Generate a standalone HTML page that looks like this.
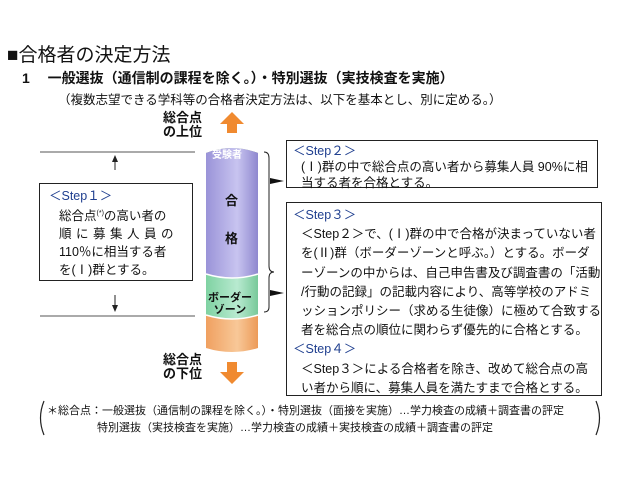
<!DOCTYPE html>
<html><head><meta charset="utf-8"><style>
body{margin:0;width:640px;height:480px;background:#fff;position:relative;overflow:hidden;font-family:"Liberation Sans","Noto Sans CJK JP",sans-serif;color:#111}
.a{position:absolute;white-space:nowrap}
.box{position:absolute;border:1.5px solid #222;background:#fff;box-sizing:border-box}
.st{color:#1f3f8f}
</style></head><body>
<div class="a" style="left:7px;top:40px;font-size:19px">■合格者の決定方法</div>
<div class="a" style="left:22px;top:68px;font-size:14px;font-weight:bold">1　 一般選抜（通信制の課程を除く。）・特別選抜（実技検査を実施）</div>
<div class="a" style="left:58px;top:89px;font-size:12.5px">（複数志望できる学科等の合格者決定方法は、以下を基本とし、別に定める。）</div>

<svg width="640" height="480" style="position:absolute;left:0;top:0">
<defs>
<linearGradient id="p" x1="0" x2="1"><stop offset="0" stop-color="#9a93d8"/><stop offset="0.6" stop-color="#c8c4f0"/><stop offset="1" stop-color="#8f88cf"/></linearGradient>
<linearGradient id="g" x1="0" x2="1"><stop offset="0" stop-color="#7fd2a2"/><stop offset="0.6" stop-color="#b8ead0"/><stop offset="1" stop-color="#78c99a"/></linearGradient>
<linearGradient id="o" x1="0" x2="1"><stop offset="0" stop-color="#f0a060"/><stop offset="0.6" stop-color="#f8c898"/><stop offset="1" stop-color="#ec9a58"/></linearGradient>
</defs>
<polygon points="232,112 220,124 227,124 227,133 237,133 237,124 244,124" fill="#f08a30"/>
<polygon points="232,384 220,372 227,372 227,362 237,362 237,372 244,372" fill="#f08a30"/>
<path d="M206,153 Q232,143 258,153 L258,348 Q232,356 206,348 Z" fill="url(#o)"/>
<path d="M206,153 Q232,143 258,153 L258,315 Q232,323 206,315 Z" fill="url(#g)"/>
<path d="M206,153 Q232,143 258,153 L258,274 Q232,282 206,274 Z" fill="url(#p)"/>
<path d="M206,274 Q232,282 258,274" stroke="#fff" stroke-width="1.5" fill="none"/>
<path d="M206,315 Q232,323 258,315" stroke="#fff" stroke-width="1.5" fill="none"/>
<line x1="40" y1="152" x2="195" y2="152" stroke="#555" stroke-width="1"/>
<line x1="40" y1="316" x2="195" y2="316" stroke="#555" stroke-width="1"/>
<line x1="115" y1="158" x2="115" y2="170" stroke="#222"/><polygon points="115,155 112,162 118,162" fill="#222"/>
<line x1="115" y1="295" x2="115" y2="309" stroke="#222"/><polygon points="115,312 112,305 118,305" fill="#222"/>
<path d="M264,152 Q269,152 269,158 L269,266 Q269,272 274,272 Q269,272 269,278 L269,307 Q269,312 264,312" stroke="#222" fill="none" stroke-width="1"/>
<polygon points="270,178 284,181 270,184" fill="#111"/>
<polygon points="270,290 284,293 270,296" fill="#111"/>
<path d="M44,401 Q37,418 44,435" stroke="#222" fill="none" stroke-width="1.2"/>
<path d="M596,401 Q603,418 596,435" stroke="#222" fill="none" stroke-width="1.2"/>
</svg>

<div class="a" style="left:163px;top:111px;font-size:13px;font-weight:bold;line-height:14px;text-align:center">総合点<br>の上位</div>
<div class="a" style="left:163px;top:353px;font-size:13px;font-weight:bold;line-height:14px;text-align:center">総合点<br>の下位</div>
<div class="a" style="left:212px;top:146px;font-size:10px;font-weight:bold;color:#fff">受験者</div>
<div class="a" style="left:225px;top:190px;font-size:13px;font-weight:bold">合</div>
<div class="a" style="left:225px;top:228px;font-size:13px;font-weight:bold">格</div>
<div class="a" style="left:208px;top:292px;font-size:11px;font-weight:bold;line-height:12px;text-align:center">ボーダー<br>ゾーン</div>

<div class="box" style="left:39px;top:183px;width:154px;height:98px;padding:3px 0 0 9px;font-size:12.5px;line-height:18px">
<div class="st">＜Step１＞</div>
<div style="padding-left:10px">総合点<sup style="font-size:7px">(*)</sup>の高い者の<br><span style="letter-spacing:4.5px">順に募集人員の</span><br>110％に相当する者<br>を(Ⅰ)群とする。</div>
</div>

<div class="box" style="left:286px;top:140px;width:312px;height:48px;padding:2px 0 0 6px;font-size:12.5px;line-height:16px">
<div class="st">＜Step２＞</div>
<div style="padding-left:8px">(Ⅰ)群の中で総合点の高い者から募集人員 90%に相<br>当する者を合格とする。</div>
</div>

<div class="box" style="left:286px;top:202px;width:316px;height:194px;padding:3px 0 0 6px;font-size:12.5px;line-height:19.2px">
<div class="st">＜Step３＞</div>
<div style="padding-left:8px">＜Step２＞で、(Ⅰ)群の中で合格が決まっていない者<br>を(Ⅱ)群（ボーダーゾーンと呼ぶ。）とする。ボーダ<br>ーゾーンの中からは、自己申告書及び調査書の「活動<br>/行動の記録」の記載内容により、高等学校のアドミ<br>ッションポリシー（求める生徒像）に極めて合致する<br>者を総合点の順位に関わらず優先的に合格とする。</div>
<div class="st">＜Step４＞</div>
<div style="padding-left:8px">＜Step３＞による合格者を除き、改めて総合点の高<br>い者から順に、募集人員を満たすまで合格とする。</div>
</div>

<div class="a" style="left:47px;top:403px;font-size:11px;line-height:17px">＊総合点：一般選抜（通信制の課程を除く。）・特別選抜（面接を実施）…学力検査の成績＋調査書の評定<br><span style="padding-left:50px">特別選抜（実技検査を実施）…学力検査の成績＋実技検査の成績＋調査書の評定</span></div>
</body></html>
